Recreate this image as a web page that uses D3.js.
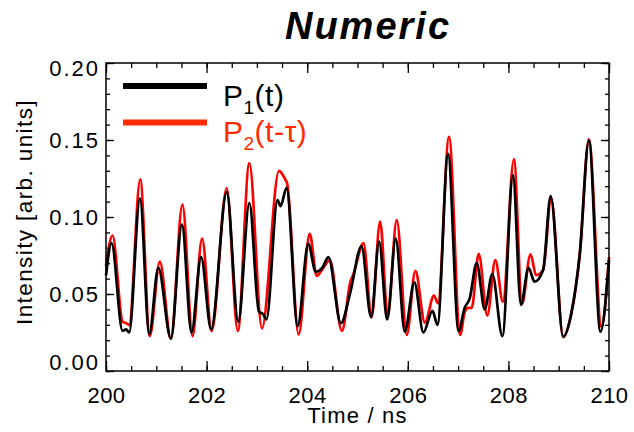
<!DOCTYPE html>
<html>
<head>
<meta charset="utf-8">
<script src="https://cdn.jsdelivr.net/npm/d3@7"></script>
<style>
	body { margin: 0; background: #fff; }
	text { font-family: "Liberation Sans", Arial, Helvetica, sans-serif; }
</style>
</head>
<body>
<div id="chart"></div>
<script>
// P1(t), black curve: sample times (ns) and intensities
let p1_time = [200.00, 200.11, 200.33, 200.40, 200.46, 200.675, 200.86, 201.04, 201.29, 201.51,
	201.70, 201.89, 202.09, 202.40, 202.63, 202.85, 203.04, 203.12, 203.19, 203.41,
	203.47, 203.59, 203.81, 204.02, 204.17, 204.30, 204.42, 204.67, 204.85, 205.08,
	205.27, 205.43, 205.59, 205.76, 205.94, 206.13, 206.31, 206.49, 206.59, 206.80,
	207.01, 207.13, 207.23, 207.37, 207.53, 207.68, 207.88, 208.09, 208.25, 208.40,
	208.52, 208.69, 208.84, 209.09, 209.25, 209.42, 209.60, 209.83, 210.00];
let p1_value = [0.062, 0.083, 0.026, 0.027, 0.025, 0.112, 0.024, 0.067, 0.021, 0.095,
	0.025, 0.074, 0.027, 0.116, 0.032, 0.109, 0.0385, 0.037, 0.0335, 0.111,
	0.107, 0.119, 0.029, 0.0825, 0.0645, 0.067, 0.074, 0.031, 0.050, 0.081,
	0.035, 0.084, 0.0335, 0.086, 0.0255, 0.0576, 0.025, 0.039, 0.030, 0.141,
	0.026, 0.041, 0.047, 0.070, 0.040, 0.063, 0.0227, 0.127, 0.043, 0.067,
	0.058, 0.0656, 0.1136, 0.0223, 0.0374, 0.0764, 0.1496, 0.0255, 0.072];

// P2(t-tau), red curve
let p2_time = [200.00, 200.13, 200.33, 200.40, 200.46, 200.68, 200.87, 201.07, 201.29, 201.52,
	201.72, 201.91, 202.10, 202.40, 202.62, 202.85, 203.10, 203.44, 203.57, 203.60,
	203.83, 204.05, 204.19, 204.30, 204.45, 204.69, 204.86, 204.92, 205.12, 205.28,
	205.45, 205.60, 205.78, 205.98, 206.15, 206.34, 206.52, 206.60, 206.82, 207.04,
	207.13, 207.20, 207.27, 207.41, 207.58, 207.74, 207.89, 208.11, 208.27, 208.44,
	208.55, 208.69, 208.85, 209.09, 209.25, 209.42, 209.60, 209.85, 210.00];
let p2_value = [0.068, 0.088, 0.032, 0.031, 0.030, 0.1245, 0.0227, 0.071, 0.021, 0.108,
	0.0227, 0.086, 0.026, 0.1186, 0.026, 0.135, 0.0277, 0.130, 0.124, 0.122,
	0.0238, 0.089, 0.0617, 0.066, 0.072, 0.026, 0.058, 0.063, 0.083, 0.035,
	0.097, 0.036, 0.098, 0.0234, 0.065, 0.0314, 0.049, 0.044, 0.152, 0.0234,
	0.038, 0.041, 0.041, 0.076, 0.036, 0.072, 0.045, 0.1374, 0.0435, 0.0758,
	0.0623, 0.0656, 0.112, 0.022, 0.037, 0.076, 0.1504, 0.0288, 0.074];

let x_ticks = [200, 202, 204, 206, 208, 210];
let y_ticks = [0.00, 0.05, 0.10, 0.15, 0.20];
let legend_labels = [["P", "1", "(t)"], ["P", "2", "(t-τ)"]];

function chart() {
	let window_w = 634,
		window_h = 432;

	let margin = {top: 63, right: 25, bottom: 61, left: 106},
		width = window_w - (margin.left + margin.right),
		height = window_h - (margin.top + margin.bottom);

	let black = "#000000",
		red = "#ff0000",
		legend_red = "#ff2a00";

	let svg = d3.select("#chart")
		.append("svg")
		.attr("width", window_w)
		.attr("height", window_h)

	let plot = svg.append("g")
		.attr("transform", "translate(" + margin.left + "," + margin.top + ")");

	let x = d3.scaleLinear()
		.domain([200, 210])
		.range([0, width])

	let y = d3.scaleLinear()
		.domain([0, 0.20])
		.range([height, 0])

	// minor ticks every 0.5 ns and 0.01, all pointing inward
	let x_minor = d3.range(200, 210.01, 0.5),
		y_minor = d3.range(0, 0.2001, 0.01);

	plot.append("g")
		.attr("transform", "translate(0," + height + ")")
		.call(d3.axisBottom(x).tickValues(x_minor).tickSize(-5).tickFormat(""))
	plot.append("g")
		.attr("class", "xaxis")
		.attr("transform", "translate(0," + height + ")")
		.call(d3.axisBottom(x).tickValues(x_ticks).tickSize(-10).tickPadding(16).tickFormat(d3.format("d")))
	plot.append("g")
		.call(d3.axisTop(x).tickValues(x_minor).tickSize(-5).tickFormat(""))
	plot.append("g")
		.call(d3.axisTop(x).tickValues(x_ticks).tickSize(-10).tickFormat(""))

	plot.append("g")
		.call(d3.axisLeft(y).tickValues(y_minor).tickSize(-4).tickFormat(""))
	plot.append("g")
		.attr("class", "yaxis")
		.call(d3.axisLeft(y).tickValues(y_ticks).tickSize(-8).tickPadding(6).tickFormat(d3.format(".2f")))
	plot.append("g")
		.attr("transform", "translate(" + width + ",0)")
		.call(d3.axisRight(y).tickValues(y_minor).tickSize(-4).tickFormat(""))
	plot.append("g")
		.attr("transform", "translate(" + width + ",0)")
		.call(d3.axisRight(y).tickValues(y_ticks).tickSize(-8).tickFormat(""))

	plot.selectAll(".domain").remove();
	plot.selectAll(".tick line")
		.attr("stroke", black)
		.attr("stroke-width", 1.3)
	plot.selectAll(".tick text")
		.attr("fill", black)
		.style("font-size", "22px")
		.style("font-family", "'Liberation Sans', Arial, sans-serif")

	plot.select(".xaxis").selectAll(".tick text")
		.style("letter-spacing", "0.5px")

	// IDL style: end labels pulled inside the axis range
	plot.select(".yaxis").selectAll(".tick text")
		.attr("dy", function(d) {
			if (d == 0.2) return "0.55em";
			if (d == 0) return "-0.05em";
			return "0.32em";
		})
		.style("letter-spacing", "2px")

	let curve = d3.line()
		.x(function(d) { return x(d[0]) })
		.y(function(d) { return y(d[1]) })
		.curve(d3.curveMonotoneX)

	let p2 = p2_time.map(function(t, i) { return [t, p2_value[i]] });
	let p1 = p1_time.map(function(t, i) { return [t, p1_value[i]] });

	plot.append("path")
		.datum(p2)
		.attr("d", curve)
		.attr("fill", "none")
		.attr("stroke", red)
		.attr("stroke-width", 2.7)
		.attr("stroke-linejoin", "round")

	plot.append("path")
		.datum(p1)
		.attr("d", curve)
		.attr("fill", "none")
		.attr("stroke", black)
		.attr("stroke-width", 2.7)
		.attr("stroke-linejoin", "round")

	// frame
	plot.append("rect")
		.attr("x", 0)
		.attr("y", 0)
		.attr("width", width)
		.attr("height", height)
		.attr("fill", "none")
		.attr("stroke", black)
		.attr("stroke-width", 1.5)

	// legend
	let legend = svg.append("g")
		.attr("class", "legend")
		.selectAll("g")
		.data(legend_labels)
		.enter()
		.append("g")
		.attr("transform", function(d, i) {
			return "translate(123," + (86 + i * 36.5) + ")"
		})

	legend.append("line")
		.attr("x1", 0)
		.attr("x2", 84)
		.attr("y1", 0)
		.attr("y2", 0)
		.attr("stroke-width", 6)
		.attr("stroke", function(d, i) { return i == 0 ? black : legend_red })

	let label = legend.append("text")
		.attr("x", 100)
		.attr("y", 19.5)
		.attr("fill", function(d, i) { return i == 0 ? black : legend_red })
		.style("font-size", "30px")
		.style("letter-spacing", "0.5px")

	label.append("tspan").text(function(d) { return d[0] })
	label.append("tspan")
		.attr("dy", 8)
		.style("font-size", "19px")
		.text(function(d) { return d[1] })
	label.append("tspan")
		.attr("dy", -8)
		.text(function(d) { return d[2] })

	// titles
	svg.append("text")
		.attr("x", 368)
		.attr("y", 39)
		.attr("text-anchor", "middle")
		.style("font-size", "38px")
		.style("font-weight", "bold")
		.style("font-style", "italic")
		.style("letter-spacing", "2px")
		.text("Numeric")

	svg.append("text")
		.attr("x", margin.left + width / 2)
		.attr("y", 423)
		.attr("text-anchor", "middle")
		.style("font-size", "22px")
		.style("letter-spacing", "1.2px")
		.text("Time / ns")

	svg.append("text")
		.attr("transform", "translate(32," + (margin.top + height / 2 - 5) + ") rotate(-90)")
		.attr("text-anchor", "middle")
		.style("font-size", "22.5px")
		.style("letter-spacing", "1.4px")
		.text("Intensity [arb. units]")
}

chart();
</script>
</body>
</html>
